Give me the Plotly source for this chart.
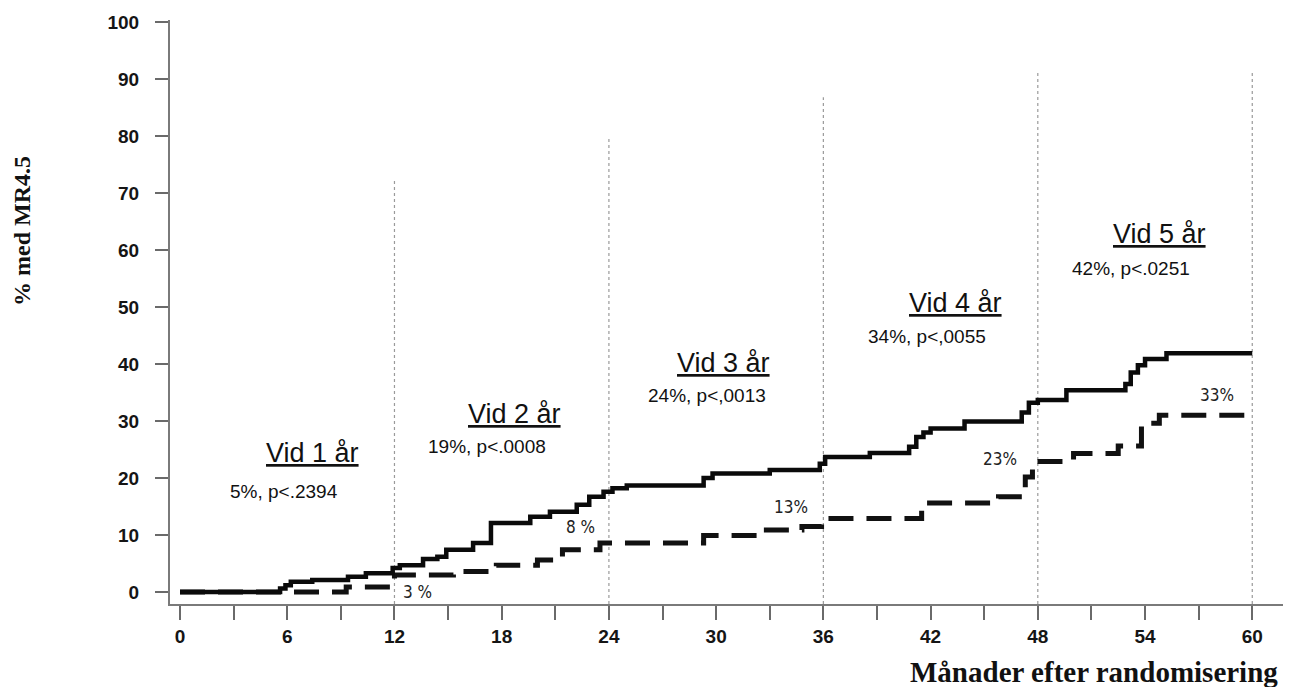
import plotly.graph_objects as go

# ---- data ----
solid_months = [0, 5.6, 5.9, 6.2, 7.4, 9.4, 10.4, 11.9, 12.3, 13.6, 14.4, 14.9, 16.4, 17.4,
                19.6, 20.7, 22.2, 22.9, 23.7, 24.2, 25.0, 29.3, 29.8, 33.0, 35.8, 36.1,
                38.6, 40.8, 41.2, 41.6, 42.0, 43.9, 47.1, 47.5, 48.0, 49.6, 52.9, 53.2,
                53.6, 54.0, 55.2, 60.0]
solid_values = [0, 0.6, 1.2, 1.8, 2.1, 2.7, 3.3, 4.2, 4.7, 5.8, 6.2, 7.4, 8.6, 12.1,
                13.2, 14.1, 15.3, 16.7, 17.6, 18.2, 18.7, 20.0, 20.8, 21.4, 22.5, 23.7,
                24.4, 25.5, 27.2, 28.0, 28.7, 29.9, 31.5, 33.2, 33.7, 35.4, 36.5, 38.5,
                39.8, 40.9, 41.9, 41.9]

dash_months = [0, 9.3, 12.0, 15.3, 17.7, 20.0, 21.4, 23.5, 29.3, 32.5, 34.8, 35.9,
               41.5, 45.8, 47.3, 47.7, 50.0, 52.5, 53.8, 54.8, 60.0]
dash_values = [0, 0.9, 3.0, 3.6, 4.7, 5.6, 7.4, 8.6, 9.9, 10.9, 11.5, 12.9,
               15.6, 16.7, 20.2, 22.9, 24.3, 25.6, 29.6, 31.0, 31.0]

year_months = [12, 24, 36, 48, 60]
year_line_tops = [72.6, 80.0, 86.8, 91.2, 91.2]

head_texts = ["Vid 1 år", "Vid 2 år", "Vid 3 år", "Vid 4 år", "Vid 5 år"]
head_x = [7.4, 18.7, 30.4, 43.4, 54.8]
head_y = [24.4, 31.2, 40.2, 50.7, 62.8]
stat_texts = ["5%, p<.2394", "19%, p<.0008", "24%, p<,0013", "34%, p<,0055", "42%, p<.0251"]
stat_x = [5.8, 17.2, 29.5, 41.8, 53.2]
stat_y = [17.7, 25.6, 34.4, 44.9, 56.8]
pct_texts = ["3 %", "8 %", "13%", "23%", "33%"]
pct_x = [13.3, 22.4, 34.2, 45.9, 58.0]
pct_y = [0.0, 11.4, 14.9, 23.3, 34.6]

x_tickvals = list(range(0, 61, 3))
x_ticktext = [str(v) if v % 6 == 0 else "" for v in x_tickvals]
y_tickvals = list(range(0, 101, 10))

# layout geometry (page body adds 8px offset)
W, H = 1290, 679
ML, MT, PW, PH = 162, 12, 1113, 584
MR = W - ML - PW
MB = H - MT - PH

fig = go.Figure()

for m, top in zip(year_months, year_line_tops):
    fig.add_shape(type="line", xref="x", yref="y", x0=m, x1=m, y0=-2.1, y1=top,
                  line=dict(color="#9a9a9a", width=1.2, dash="dot"), layer="below")

fig.add_trace(go.Scatter(x=dash_months, y=dash_values, mode="lines", line_shape="hv",
                         line=dict(color="#111111", width=5, dash="25px,13px"),
                         showlegend=False, hoverinfo="skip"))
fig.add_trace(go.Scatter(x=solid_months, y=solid_values, mode="lines", line_shape="hv",
                         line=dict(color="#0a0a0a", width=4.5),
                         showlegend=False, hoverinfo="skip"))

for t, x, y in zip(head_texts, head_x, head_y):
    fig.add_annotation(x=x, y=y, xref="x", yref="y", text="<u>" + t + "</u>", showarrow=False,
                       font=dict(family="Liberation Sans, Arial", size=27, color="#111"))
for t, x, y in zip(stat_texts, stat_x, stat_y):
    fig.add_annotation(x=x, y=y, xref="x", yref="y", text=t, showarrow=False,
                       font=dict(family="Liberation Sans, Arial", size=19, color="#111"))
for t, x, y in zip(pct_texts, pct_x, pct_y):
    fig.add_annotation(x=x, y=y, xref="x", yref="y", text=t, showarrow=False,
                       font=dict(family="DejaVu Sans Condensed, Liberation Sans, Arial", size=17, color="#222"))

fig.add_annotation(xref="paper", yref="paper", x=(14 - ML) / PW, y=(MT + PH - 223) / PH,
                   text="<b>% med MR4.5</b>", textangle=-90, showarrow=False,
                   xanchor="center", yanchor="middle",
                   font=dict(family="Liberation Serif, Times New Roman", size=24, color="#111"))
fig.add_annotation(xref="paper", yref="paper", x=(1272 - ML) / PW, y=(MT + PH - 664) / PH,
                   text="<b>Månader efter randomisering</b>", showarrow=False,
                   xanchor="right", yanchor="middle",
                   font=dict(family="Liberation Serif, Times New Roman", size=29, color="#111"))

tickfont = dict(family="Liberation Sans, Arial", size=19, color="#151515", weight="bold")
fig.update_layout(
    width=W, height=H,
    margin=dict(l=ML, r=MR, t=MT, b=MB, autoexpand=False),
    paper_bgcolor="white", plot_bgcolor="white",
    xaxis=dict(range=[-0.56, 61.72], tickvals=x_tickvals, ticktext=x_ticktext,
               showgrid=False, zeroline=False, showline=True, linecolor="#7a7a7a", linewidth=2,
               ticks="outside", ticklen=14, tickwidth=2, tickcolor="#6a6a6a",
               tickfont=tickfont),
    yaxis=dict(range=[-2.1, 100.35], tickvals=y_tickvals,
               showgrid=False, zeroline=False, showline=True, linecolor="#7a7a7a", linewidth=2,
               ticks="outside", ticklen=13, tickwidth=2, tickcolor="#6a6a6a", ticklabelstandoff=12,
               tickfont=tickfont),
)

fig.write_html("out.html")
